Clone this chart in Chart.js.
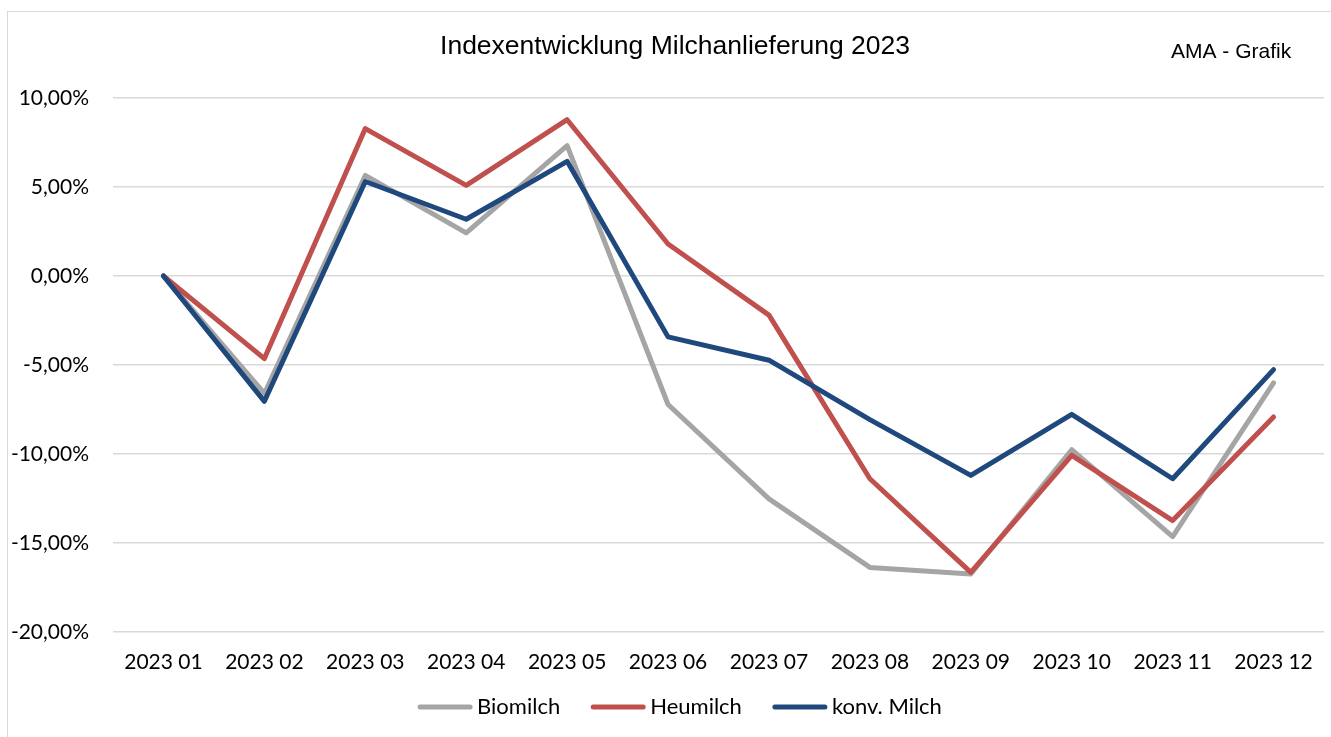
<!DOCTYPE html>
<html>
<head>
<meta charset="utf-8">
<script src="https://cdn.jsdelivr.net/npm/chart.js@4/dist/chart.umd.min.js"></script>
<style>
    body { margin: 0; background: #fff; overflow: hidden; }
    #wrap { position: relative; width: 1331px; height: 737px; }
    #frame {
        position: absolute; left: 7px; top: 11px; width: 1400px; height: 800px;
        border: 1.5px solid #d9d9d9; pointer-events: none;
    }
</style>
</head>
<body>
<div id="wrap">
    <canvas id="milkChart" width="1331" height="737"></canvas>
    <div id="frame"></div>
</div>
<script>
// Months (x categories)
const months = ['2023 01', '2023 02', '2023 03', '2023 04', '2023 05', '2023 06',
                '2023 07', '2023 08', '2023 09', '2023 10', '2023 11', '2023 12'];

// Index development in percent
const biomilch  = [0, -6.6, 5.65, 2.42, 7.32, -7.22, -12.52, -16.37, -16.74, -9.76, -14.64, -6.0];
const heumilch  = [0, -4.64, 8.28, 5.09, 8.78, 1.8, -2.2, -11.39, -16.65, -10.08, -13.74, -7.92];
const konvMilch = [0, -7.04, 5.31, 3.19, 6.44, -3.42, -4.73, -8.07, -11.2, -7.77, -11.39, -5.26];

// Y axis range / step
const yMin = -20;
const yMax = 10;
const yStep = 5;

const seriesNames = ['Biomilch', 'Heumilch', 'konv. Milch'];
const seriesColors = ['#a5a5a5', '#c0504d', '#1f497d'];

const tickFont = { family: 'Lato', size: 21 };

function makeDataset(idx, values, order) {
    return {
        label: seriesNames[idx],
        data: values,
        borderColor: seriesColors[idx],
        backgroundColor: seriesColors[idx],
        borderWidth: 5,
        borderJoinStyle: 'round',
        borderCapStyle: 'round',
        pointRadius: 0,
        pointHoverRadius: 0,
        fill: false,
        tension: 0,
        order: order, // blue on top, gray at the bottom
    };
}

// Title + "AMA - Grafik" + legend drawn by hand
const decorations = {
    id: 'decorations',
    afterDraw(chart) {
        const c = chart.ctx;
        c.save();
        c.fillStyle = '#000';
        c.textBaseline = 'middle';

        c.font = '26.5px "Liberation Sans", Arial, sans-serif';
        c.textAlign = 'center';
        c.fillText('Indexentwicklung Milchanlieferung 2023', 675, 47);

        c.font = '21px "Liberation Sans", Arial, sans-serif';
        c.textAlign = 'left';
        c.fillText('AMA - Grafik', 1171, 52);

        // legend
        c.font = '22px Lato, sans-serif';
        const boxW = 54, gap = 5, spacing = 31;
        const widths = seriesNames.map(n => c.measureText(n).width);
        let total = 0;
        widths.forEach((w, i) => { total += boxW + gap + w + (i < widths.length - 1 ? spacing : 0); });
        let x = 680 - total / 2;
        const y = 707;
        seriesNames.forEach((name, i) => {
            c.strokeStyle = seriesColors[i];
            c.lineWidth = 5;
            c.lineCap = 'round';
            c.beginPath();
            c.moveTo(x + 2, y);
            c.lineTo(x + boxW - 2, y);
            c.stroke();
            c.fillStyle = '#000';
            c.fillText(name, x + boxW + gap, y);
            x += boxW + gap + widths[i] + spacing;
        });
        c.restore();
    }
};

const ctx = document.getElementById('milkChart').getContext('2d');
const milkChart = new Chart(ctx, {
    type: 'line',
    data: {
        labels: months,
        datasets: [
            makeDataset(0, biomilch, 3),
            makeDataset(1, heumilch, 2),
            makeDataset(2, konvMilch, 1),
        ],
    },
    options: {
        responsive: false,
        animation: false,
        layout: { padding: { top: 98, right: 5, bottom: 0, left: 0 } },
        plugins: {
            legend: { display: false },
            tooltip: { enabled: false },
            title: { display: false },
        },
        scales: {
            x: {
                type: 'category',
                offset: true,
                grid: { display: false, drawTicks: false },
                border: { display: false },
                ticks: { color: '#000', font: tickFont, padding: 18, maxRotation: 0, autoSkip: false },
                afterFit(scale) { scale.height = 105; },
            },
            y: {
                min: yMin,
                max: yMax,
                grid: { color: '#d9d9d9', lineWidth: 1.5, drawTicks: false },
                border: { display: false },
                ticks: {
                    stepSize: yStep,
                    color: '#000',
                    font: tickFont,
                    padding: 24,
                    callback: v => v.toFixed(2).replace('.', ',') + '%',
                },
                afterFit(scale) { scale.width = 113; },
            },
        },
    },
    plugins: [decorations],
});
</script>
</body>
</html>
